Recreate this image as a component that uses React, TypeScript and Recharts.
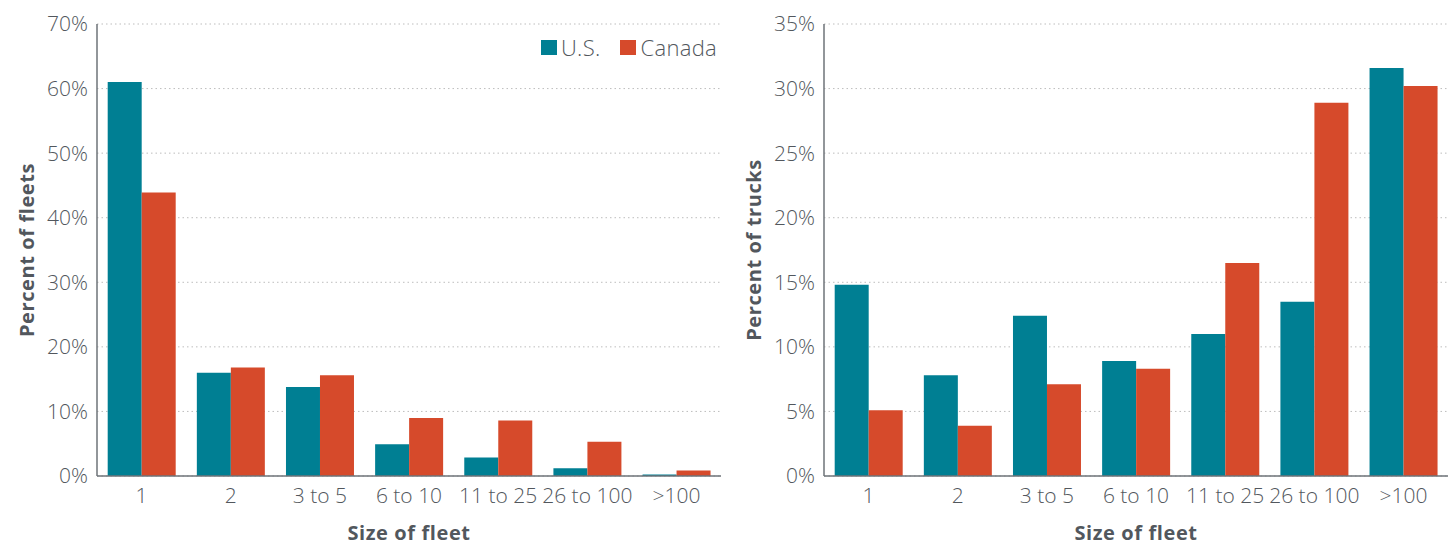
import { BarChart, Bar, XAxis, YAxis, CartesianGrid } from "recharts";

const fleetSizes = ["1", "2", "3 to 5", "6 to 10", "11 to 25", "26 to 100", ">100"];

// percent of fleets
const fleetsUS = [61.0, 16.0, 13.8, 4.9, 2.85, 1.2, 0.25];
const fleetsCanada = [43.9, 16.8, 15.6, 9.0, 8.6, 5.3, 0.85];

// percent of trucks
const trucksUS = [14.8, 7.8, 12.4, 8.9, 11.0, 13.5, 31.6];
const trucksCanada = [5.1, 3.9, 7.1, 8.3, 16.5, 28.9, 30.2];

const fleetTicks = [0, 10, 20, 30, 40, 50, 60, 70];
const truckTicks = [0, 5, 10, 15, 20, 25, 30, 35];

const TEAL = "#007f93";
const ORANGE = "#d64a2b";
const TEXT = "#52575d";
const AXIS = "#6e7379";
const FONT = "'Open Sans', sans-serif";

const fleetData = fleetSizes.map((size, i) => ({ size, us: fleetsUS[i], canada: fleetsCanada[i] }));
const truckData = fleetSizes.map((size, i) => ({ size, us: trucksUS[i], canada: trucksCanada[i] }));

const tickStyle = { fontSize: 21, fill: TEXT, fontFamily: FONT, fontWeight: 300 };
const titleStyle = { fontSize: 20, fill: TEXT, fontFamily: FONT, fontWeight: 700, letterSpacing: 0.6 };

function LegendBox() {
  const item = (color: string, name: string, gap: number) => (
    <span style={{ display: "inline-flex", alignItems: "center", marginLeft: gap }}>
      <span style={{ width: 16, height: 15, background: color, display: "inline-block", marginRight: 4 }} />
      <span style={{ fontSize: 22, lineHeight: "22px", color: TEXT, fontFamily: FONT, fontWeight: 300, letterSpacing: 0.3 }}>
        {name}
      </span>
    </span>
  );
  return (
    <div style={{ position: "absolute", top: 36, left: 437, width: 280, display: "flex", justifyContent: "flex-end" }}>
      {item(TEAL, "U.S.", 0)}
      {item(ORANGE, "Canada", 20)}
    </div>
  );
}

function Panel({ data, ticks, max, yTitle, width }: any) {
  return (
    <BarChart
      width={width}
      height={545}
      data={data}
      margin={{ top: 24, right: width - 97 - 624, bottom: 0, left: 0 }}
      barCategoryGap="12%"
      barGap={0}
    >
      <CartesianGrid vertical={false} stroke="#bdbdbd" strokeDasharray="1.5 3" />
      <XAxis
        dataKey="size"
        height={69}
        tickLine={false}
        tickSize={0}
        tickMargin={12}
        axisLine={{ stroke: AXIS, strokeWidth: 1.5 }}
        tick={tickStyle}
        interval={0}
        label={{ value: "Size of fleet", position: "insideBottom", offset: 5, style: titleStyle }}
      />
      <YAxis
        width={97}
        domain={[0, max]}
        ticks={ticks}
        tickFormatter={(v: number) => `${v}%`}
        tickLine={false}
        tickSize={0}
        tickMargin={9}
        axisLine={{ stroke: AXIS, strokeWidth: 1.5 }}
        tick={tickStyle}
        label={{
          value: yTitle,
          angle: -90,
          position: "insideLeft",
          offset: 27,
          style: { ...titleStyle, textAnchor: "middle" },
        }}
      />
      <Bar dataKey="us" name="U.S." fill={TEAL} isAnimationActive={false} />
      <Bar dataKey="canada" name="Canada" fill={ORANGE} isAnimationActive={false} />
    </BarChart>
  );
}

export default function App() {
  return (
    <div style={{ position: "absolute", left: 0, top: 0, width: 1453, height: 545, display: "flex", background: "#fff" }}>
      <Panel data={fleetData} ticks={fleetTicks} max={70} yTitle="Percent of fleets" width={727} />
      <Panel data={truckData} ticks={truckTicks} max={35} yTitle="Percent of trucks" width={726} />
      <LegendBox />
    </div>
  );
}
